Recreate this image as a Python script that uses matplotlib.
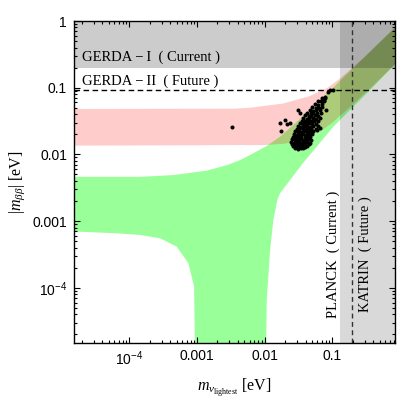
import matplotlib
matplotlib.use('Agg')
import matplotlib.pyplot as plt
from matplotlib.ticker import FixedLocator, LogLocator, NullFormatter
import numpy as np

plt.rcParams['font.family'] = 'Liberation Sans'
plt.rcParams['mathtext.fontset'] = 'custom'
plt.rcParams['mathtext.rm'] = 'Liberation Serif'
plt.rcParams['mathtext.it'] = 'Liberation Serif:italic'

# axis ranges (eV)
x_min, x_max = 1.52e-5, 0.84
y_min, y_max = 1.51e-5, 1.0
floor = 1e-7  # m_bb = 0, below the visible range

# experimental bounds (eV)
gerda1_low = 0.2
gerda2 = 0.092
planck = 0.13
katrin = 0.195

# normal hierarchy band (green)
nh_up_m = [1e-5, 1.44e-4, 4.47e-4, 1.39e-3, 2.75e-3, 4.32e-3, 6.79e-3, 0.0107, 0.0168, 0.03, 0.06, 0.15, 0.4, 1.0]
nh_up_mbb = [0.0046, 0.0046, 0.0049, 0.0057, 0.0069, 0.0082, 0.0104, 0.0134, 0.0184, 0.031, 0.06, 0.146, 0.385, 0.95]
nh_lo_m = [1e-5, 6.52e-5, 1.44e-4, 2.84e-4, 5.01e-4, 7.45e-4, 9.04e-4, 9.9e-4,
           9.86e-3, 0.0107, 0.012, 0.0134, 0.01535, 0.0168, 0.0368, 0.103, 0.321, 0.871, 1.0]
nh_lo_mbb = [7.1e-4, 6.56e-4, 6.19e-4, 5.52e-4, 4.13e-4, 2.33e-4, 1.04e-4, floor,
             floor, 6.56e-5, 3.69e-4, 1.04e-3, 2.07e-3, 2.61e-3, 7.43e-3, 0.026, 0.0824, 0.232, 0.27]

# inverted hierarchy band (pink)
ih_up_m = [1e-5, 0.0035, 0.006, 0.0188, 0.0467, 0.0824, 0.13, 0.3, 1.0]
ih_up_mbb = [0.048, 0.0485, 0.050, 0.058, 0.075, 0.098, 0.138, 0.29, 0.95]
ih_lo_m = [1e-5, 0.01, 0.02, 0.04, 0.07, 0.1, 0.2, 0.4, 1.0]
ih_lo_mbb = [0.0135, 0.0138, 0.0145, 0.0173, 0.023, 0.030, 0.056, 0.108, 0.27]

# scan points, (log10 m_lightest, log10 m_bb)
cluster = [
    (-1.55, -1.905), (-1.51, -1.915), (-1.47, -1.91), (-1.44, -1.90),
    (-1.58, -1.875), (-1.53, -1.885), (-1.49, -1.88), (-1.45, -1.875), (-1.41, -1.885), (-1.38, -1.87),
    (-1.60, -1.845), (-1.56, -1.855), (-1.52, -1.85), (-1.48, -1.845), (-1.44, -1.855), (-1.40, -1.85), (-1.35, -1.84),
    (-1.61, -1.815), (-1.57, -1.825), (-1.54, -1.815), (-1.50, -1.82), (-1.46, -1.825), (-1.42, -1.815), (-1.38, -1.82), (-1.33, -1.825),
    (-1.60, -1.775), (-1.55, -1.785), (-1.51, -1.78), (-1.47, -1.775), (-1.43, -1.785), (-1.39, -1.78), (-1.35, -1.775), (-1.31, -1.785),
    (-1.59, -1.735), (-1.54, -1.745), (-1.50, -1.74), (-1.46, -1.735), (-1.41, -1.745), (-1.37, -1.74), (-1.33, -1.735),
    (-1.57, -1.695), (-1.52, -1.705), (-1.48, -1.70), (-1.44, -1.695), (-1.39, -1.705), (-1.35, -1.70), (-1.30, -1.695),
    (-1.56, -1.655), (-1.51, -1.665), (-1.46, -1.66), (-1.42, -1.655), (-1.38, -1.665), (-1.33, -1.66), (-1.28, -1.655),
    (-1.53, -1.615), (-1.49, -1.625), (-1.44, -1.62), (-1.40, -1.615), (-1.36, -1.625), (-1.31, -1.62), (-1.25, -1.615),
    (-1.51, -1.575), (-1.46, -1.585), (-1.42, -1.58), (-1.38, -1.575), (-1.33, -1.585), (-1.28, -1.58), (-1.22, -1.575),
    (-1.48, -1.535), (-1.43, -1.545), (-1.39, -1.54), (-1.34, -1.535), (-1.30, -1.545), (-1.25, -1.54),
    (-1.45, -1.495), (-1.41, -1.505), (-1.36, -1.50), (-1.32, -1.495), (-1.27, -1.505), (-1.21, -1.50),
    (-1.43, -1.455), (-1.38, -1.465), (-1.34, -1.46), (-1.29, -1.455), (-1.24, -1.465), (-1.19, -1.46),
    (-1.40, -1.415), (-1.35, -1.425), (-1.31, -1.42), (-1.26, -1.415), (-1.21, -1.425),
    (-1.37, -1.375), (-1.32, -1.385), (-1.28, -1.38), (-1.23, -1.375), (-1.17, -1.385),
    (-1.33, -1.335), (-1.29, -1.345), (-1.24, -1.34), (-1.19, -1.335),
    (-1.30, -1.295), (-1.25, -1.305), (-1.20, -1.30), (-1.15, -1.295),
    (-1.26, -1.25), (-1.21, -1.255), (-1.16, -1.245),
    (-1.21, -1.20), (-1.17, -1.205), (-1.12, -1.195),
    (-1.16, -1.15), (-1.11, -1.155),
    # scattered
    (-1.774, -1.525), (-1.76, -1.649), (-1.70, -1.484), (-1.666, -1.544), (-1.626, -1.534),
    (-1.504, -1.334), (-1.479, -1.384), (-1.124, -1.184), (-1.094, -1.334), (-1.183, -1.609),
    (-1.232, -1.634), (-1.061, -1.06), (-0.987, -1.034), (-1.109, -1.135), (-1.04, -1.04),
]
outlier_m, outlier_mbb = [3.29e-3], [0.026]

fig = plt.figure(figsize=(4, 3.98), dpi=100)
ax = fig.add_axes([0.185, 0.1394, 0.8025, 0.8078])
ax.set_xscale('log')
ax.set_yscale('log')

# bands
ax.fill(np.concatenate([nh_up_m, nh_lo_m[::-1]]), np.concatenate([nh_up_mbb, nh_lo_mbb[::-1]]),
        color=(0, 1, 0), alpha=0.4, lw=0)
ax.fill(np.concatenate([ih_up_m, ih_lo_m[::-1]]), np.concatenate([ih_up_mbb, ih_lo_mbb[::-1]]),
        color='red', alpha=0.2, lw=0)
ax.axhspan(gerda1_low, y_max, color='k', alpha=0.2, lw=0)
ax.axvspan(planck, 10, color='k', alpha=0.15, lw=0)
ax.axhline(gerda2, color='k', lw=1, ls=(0, (4, 2.5)))
ax.axvline(katrin, color='#333333', lw=1, ls=(0, (3.5, 2.5)))

lm, lb = zip(*cluster)
ax.plot(10 ** np.array(lm), 10 ** np.array(lb), 'o', color='k', ms=2.9, mew=0)
ax.plot(outlier_m, outlier_mbb, 'o', color='k', ms=2.9, mew=0)

serif = 'Liberation Serif'
ax.text(0.024, 0.876, 'GERDA\u2009\u2212\u2009I  ( Current )', transform=ax.transAxes,
        family=serif, fontsize=10.5, va='baseline')
ax.text(0.026, 0.801, 'GERDA\u2009\u2212\u2009II  ( Future )', transform=ax.transAxes,
        family=serif, fontsize=10.5, va='baseline')
ax.text(0.818, 0.075, 'PLANCK  ( Current )', transform=ax.transAxes, family=serif,
        fontsize=10.5, rotation=90, rotation_mode='anchor', ha='left', va='baseline')
ax.text(0.917, 0.096, 'KATRIN  ( Future )', transform=ax.transAxes, family=serif,
        fontsize=10.5, rotation=90, rotation_mode='anchor', ha='left', va='baseline')

ax.set_xlim(x_min, x_max)
ax.set_ylim(y_min, y_max)

xt = [1e-4, 1e-3, 1e-2, 0.1]
xl = [r'$\mathregular{10^{-4}}$', '0.001', '0.01', '0.1']
yt = [1e-4, 1e-3, 1e-2, 0.1, 1]
yl = [r'$\mathregular{10^{-4}}$', '0.001', '0.01', '0.1', '1']
ax.xaxis.set_major_locator(FixedLocator(xt))
ax.set_xticklabels(xl)
ax.yaxis.set_major_locator(FixedLocator(yt))
ax.set_yticklabels(yl)
for a in (ax.xaxis, ax.yaxis):
    a.set_minor_locator(LogLocator(base=10, subs=np.arange(2, 10), numticks=20))
    a.set_minor_formatter(NullFormatter())
ax.tick_params(which='both', direction='in', top=True, right=True, labelsize=10, width=0.8)
ax.tick_params(which='major', length=4.5, pad=5)
ax.tick_params(which='minor', length=2.3)
for s in ax.spines.values():
    s.set_linewidth(1.0)

ax.set_xlabel(r'$m_{\nu_{\mathrm{lightest}}}\ [\mathrm{eV}]$', fontsize=11.5, labelpad=6)
ax.set_ylabel(r'$|m_{\beta\beta}|\ [\mathrm{eV}]$', fontsize=11.5, labelpad=4)

fig.savefig('out.png', dpi=100)
